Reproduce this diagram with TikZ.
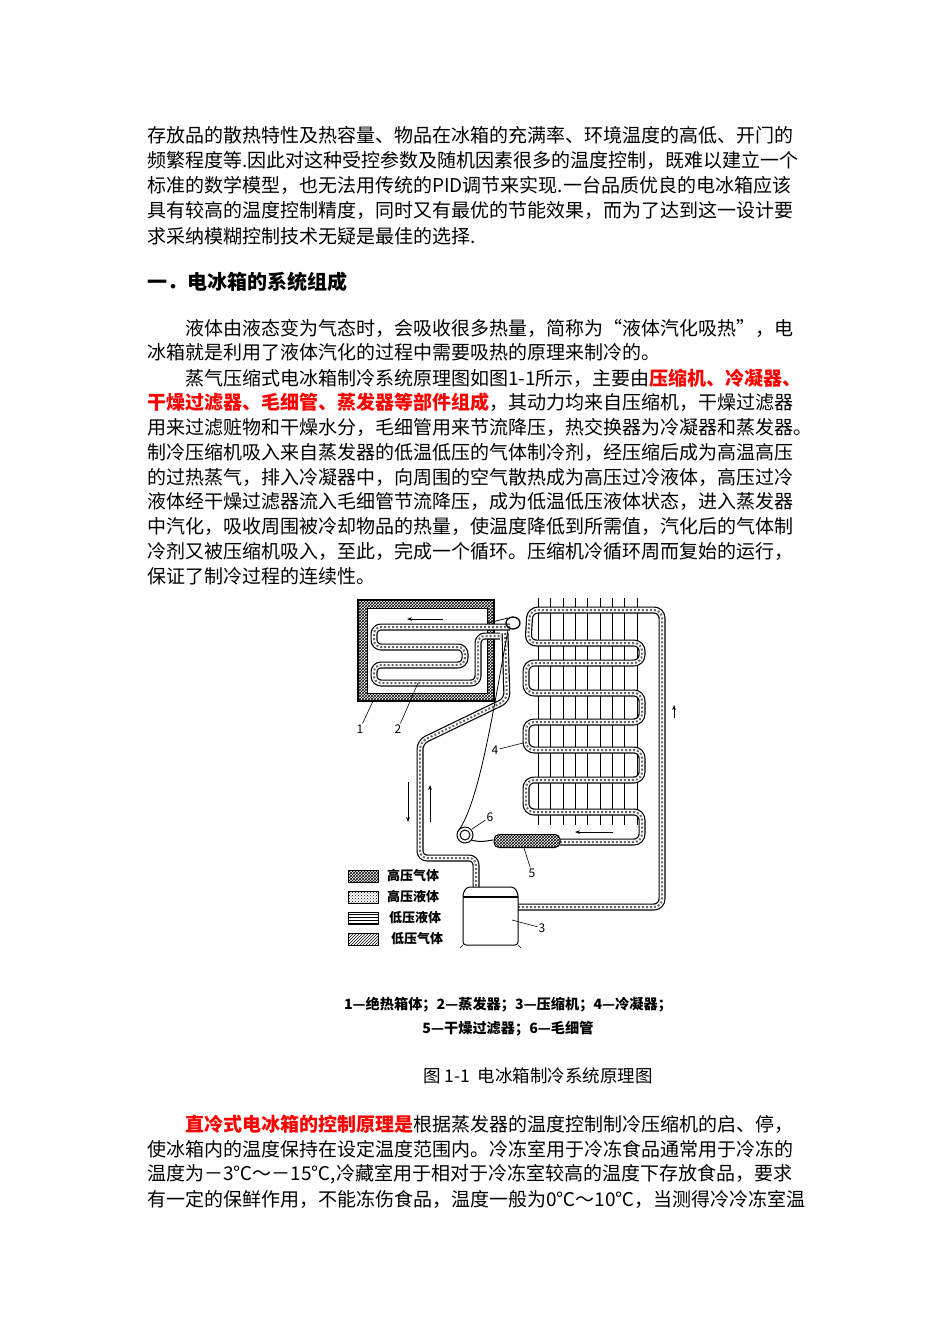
\documentclass[tikz,border=0pt]{standalone}
\usepackage{fontspec}
\setmainfont{Noto Sans CJK SC}
\usetikzlibrary{patterns,arrows.meta}
\newcommand{\RB}[1]{{\color{red}\bfseries #1}}
\tikzset{
 ln/.style={anchor=west,inner sep=0pt,font=\fontsize{19}{22}\selectfont},
 tube/.style={line width=7pt,draw=black,line join=round,postaction={draw=white,line width=4.6pt},postaction={draw=black!60,line width=2pt,dash pattern=on 2pt off 2pt}},
 fin/.style={line width=0.7pt},
 arr/.style={-{Stealth[length=5pt]},line width=0.7pt},
 lab/.style={font=\fontsize{12}{12}\selectfont,inner sep=1pt},
 lead/.style={line width=0.6pt},
 leg/.style={draw,line width=0.8pt,minimum width=30pt,minimum height=12pt,inner sep=0pt},
 legt/.style={anchor=west,font=\fontsize{13}{13}\selectfont\bfseries,inner sep=0pt}
}
\newcommand{\PL}[3]{\node[ln] at (#2,#1) {#3};}
\begin{document}
\begin{tikzpicture}[x=1pt,y=-1pt]
\useasboundingbox (0,0) rectangle (950,1344);
\fill[white] (0,0) rectangle (950,1344);
\PL{135}{147}{存放品的散热特性及热容量、物品在冰箱的充满率、环境温度的高低、开门的}
\PL{160}{147}{频繁程度等.因此对这种受控参数及随机因素很多的温度控制，既难以建立一个}
\PL{185}{147}{标准的数学模型，也无法用传统的PID调节来实现.一台品质优良的电冰箱应该}
\PL{210}{147}{具有较高的温度控制精度，同时又有最优的节能效果，而为了达到这一设计要}
\PL{236}{147}{求采纳模糊控制技术无疑是最佳的选择.}
\node[ln,font=\fontsize{20}{22}\selectfont\bfseries] at (147,282) {一．电冰箱的系统组成};
\PL{328}{185}{液体由液态变为气态时，会吸收很多热量，简称为“液体汽化吸热”，电}
\PL{352}{147}{冰箱就是利用了液体汽化的过程中需要吸热的原理来制冷的。}
\PL{378}{185}{蒸气压缩式电冰箱制冷系统原理图如图1-1所示，主要由\RB{压缩机、冷凝器、}}
\PL{402}{147}{\RB{干燥过滤器、毛细管、蒸发器等部件组成}，其动力均来自压缩机，干燥过滤器}
\PL{427}{147}{用来过滤赃物和干燥水分，毛细管用来节流降压，热交换器为冷凝器和蒸发器。}
\PL{452}{147}{制冷压缩机吸入来自蒸发器的低温低压的气体制冷剂，经压缩后成为高温高压}
\PL{477}{147}{的过热蒸气，排入冷凝器中，向周围的空气散热成为高压过冷液体，高压过冷}
\PL{501}{147}{液体经干燥过滤器流入毛细管节流降压，成为低温低压液体状态，进入蒸发器}
\PL{526}{147}{中汽化，吸收周围被冷却物品的热量，使温度降低到所需值，汽化后的气体制}
\PL{551}{147}{冷剂又被压缩机吸入，至此，完成一个循环。压缩机冷循环周而复始的运行，}
\PL{576}{147}{保证了制冷过程的连续性。}
% insulated box
\fill[pattern=crosshatch] (358,600) rectangle (494,701);
\fill[white] (367,608) rectangle (487,693);
\draw[line width=1.2pt] (358,600) rectangle (494,701);
\draw[line width=1pt] (367,608) rectangle (487,693);
% fins
\foreach \x in {538,550,563,575,587,600,612,624,637} \draw[fin] (\x,598) -- (\x,825);
% condenser
\draw[tube,rounded corners=8pt] (518,907) -- (662,907) -- (662,610) -- (530,610) -- (528,643) -- (642,643) -- (642,663) -- (526,663) -- (526,693) -- (642,693) -- (642,722) -- (526,722) -- (526,750) -- (642,750) -- (642,780) -- (526,780) -- (526,812) -- (642,812) -- (642,842) -- (560,842);
% evaporator
\draw[tube,rounded corners=7pt] (510,627) -- (374,627) -- (374,647) -- (465,647) -- (465,665) -- (374,665) -- (374,683) -- (478,683) -- (478,636) -- (500,636);
% suction line
\draw[tube,rounded corners=7pt] (505,633) -- (507,700) -- (420,742) -- (420,858) -- (476,858) -- (476,887);
% capillary
\draw[line width=1pt] (465,835) circle (8);
\draw[line width=1pt] (465,835) circle (5);
\draw[line width=1pt] (471,840) .. controls (480,842) .. (493,840);
\draw[line width=0.8pt] (459,830) .. controls (480,800) and (495,700) .. (508,630);
% filter
\node[draw,line width=1pt,pattern=crosshatch,minimum width=66pt,minimum height=13pt,rounded corners=5pt,inner sep=0pt] (filt) at (527,841) {};
% loop at top
\draw[line width=1.3pt] (513,623) ellipse (7 and 6);
\draw[line width=0.8pt] (488,623) -- (508,618);
% compressor
\draw[line width=1pt,rounded corners=3pt] (463,945) -- (463,893) -- (467,887) -- (514,887) -- (518,893) -- (518,945) -- cycle;
\draw[line width=2pt] (463,897) -- (518,897);
\draw[line width=0.6pt] (463,945) -- (460,948) (518,945) -- (521,948);
% arrows
\draw[arr] (443,619) -- (407,619);
\draw[arr] (408,782) -- (408,822);
\draw[arr] (430,822) -- (430,785);
\draw[arr] (674,718) -- (674,705);
\draw[arr] (613,832) -- (575,832);
% labels
\node[lab] (l1) at (360,729) {1};
\node[lab] (l2) at (398,729) {2};
\node[lab] (l4) at (495,750) {4};
\node[lab] (l6) at (490,817) {6};
\node[lab] (l5) at (532,873) {5};
\node[lab] (l3) at (542,928) {3};
\draw[lead] (l1) -- (373,701);
\draw[lead] (l2) -- (418,683);
\draw[lead] (l4) -- (523,743);
\draw[lead] (l6) -- (472,829);
\draw[lead] (l5) -- (524,848);
\draw[lead] (l3) -- (512,920);
% legend
\node[leg,pattern=crosshatch] (g1) at (363,876) {};
\node[leg,pattern=crosshatch dots] (g2) at (363,897) {};
\node[leg,pattern=horizontal lines] (g3) at (363,918) {};
\node[leg,pattern=north east lines] (g4) at (363,939) {};
\node[legt] at (387,876) {高压气体};
\node[legt] at (387,897) {高压液体};
\node[legt] at (389,918) {低压液体};
\node[legt] at (391,939) {低压气体};
\node[font=\fontsize{14.2}{14}\selectfont\bfseries] at (508,1005) {1—绝热箱体；2—蒸发器；3—压缩机；4—冷凝器；};
\node[font=\fontsize{14.2}{14}\selectfont\bfseries] at (508,1029) {5—干燥过滤器；6—毛细管};
\node[font=\fontsize{17.5}{18}\selectfont] at (538,1076) {图 1-1\ \ 电冰箱制冷系统原理图};
\PL{1124}{185}{\RB{直冷式电冰箱的控制原理是}根据蒸发器的温度控制制冷压缩机的启、停，}
\PL{1149}{147}{使冰箱内的温度保持在设定温度范围内。冷冻室用于冷冻食品通常用于冷冻的}
\PL{1174}{147}{温度为－3℃～－15℃,冷藏室用于相对于冷冻室较高的温度下存放食品，要求}
\PL{1199}{147}{有一定的保鲜作用，不能冻伤食品，温度一般为0℃～10℃，当测得冷冷冻室温}
\end{tikzpicture}
\end{document}
